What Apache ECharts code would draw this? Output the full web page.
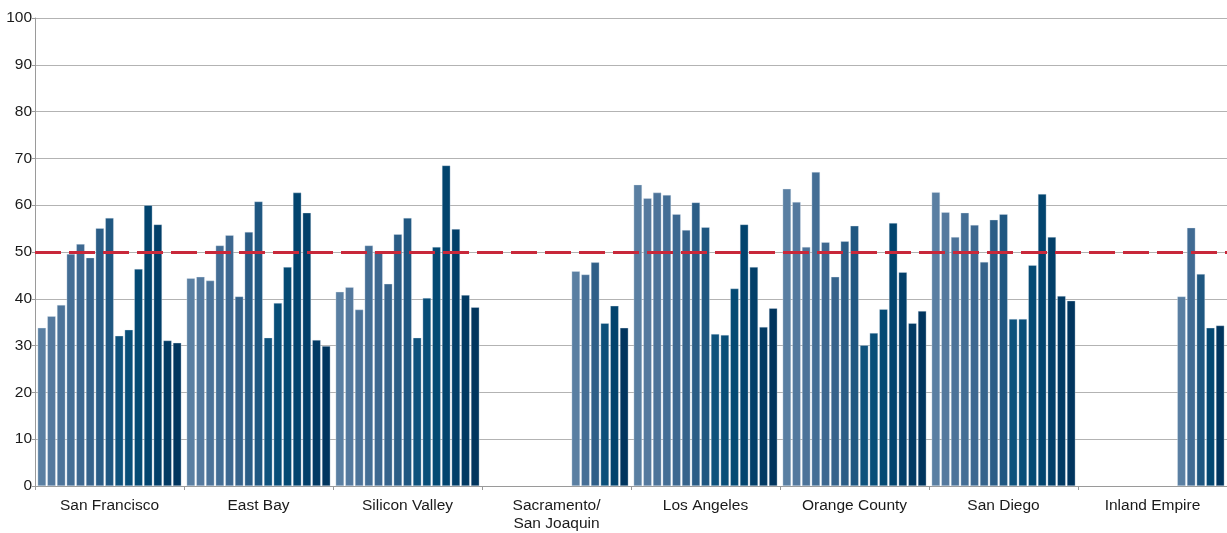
<!DOCTYPE html>
<html>
<head>
<meta charset="utf-8">
<script src="https://cdn.jsdelivr.net/npm/echarts@6/dist/echarts.min.js"></script>
<style>
  html, body { margin: 0; padding: 0; background: #fff; }
  #chart { width: 1227px; height: 533px; }
</style>
</head>
<body>
<div id="chart"></div>
<script>
// Regional markets along the x axis
const regions = ['San Francisco', 'East Bay', 'Silicon Valley', 'Sacramento/\nSan Joaquin',
  'Los Angeles', 'Orange County', 'San Diego', 'Inland Empire'];

// One row per region, 15 readings each (null = no reading for that period)
const sanFrancisco  = [33.8, 36.3, 38.7, 49.6, 51.7, 48.8, 55.1, 57.3, 32.1, 33.4, 46.4, 60.0, 55.9, 31.1, 30.6];
const eastBay       = [44.4, 44.7, 43.9, 51.4, 53.6, 40.5, 54.3, 60.8, 31.7, 39.1, 46.8, 62.7, 58.4, 31.2, 29.9];
const siliconValley = [41.5, 42.5, 37.7, 51.4, 50.1, 43.2, 53.8, 57.3, 31.7, 40.2, 51.1, 68.5, 54.9, 40.8, 38.2];
const sacramento    = [null, null, null, null, null, null, null, null, null, 45.9, 45.2, 47.8, 34.8, 38.5, 33.8];
const losAngeles    = [64.4, 61.5, 62.7, 62.2, 58.1, 54.7, 60.6, 55.3, 32.5, 32.3, 42.2, 55.9, 46.8, 34.0, 38.0];
const orangeCounty  = [63.5, 60.7, 51.1, 67.1, 52.1, 44.7, 52.3, 55.6, 30.1, 32.7, 37.8, 56.2, 45.7, 34.8, 37.4];
const sanDiego      = [62.8, 58.5, 53.2, 58.4, 55.8, 47.9, 56.9, 58.1, 35.7, 35.7, 47.2, 62.4, 53.2, 40.6, 39.6];
const inlandEmpire  = [null, null, null, null, null, null, null, null, null, null, 40.5, 55.2, 45.3, 33.8, 34.3];

const regionRows = [sanFrancisco, eastBay, siliconValley, sacramento, losAngeles, orangeCounty, sanDiego, inlandEmpire];

// Threshold line
const threshold = 50;

// Y axis ticks
const yTicks = [0, 10, 20, 30, 40, 50, 60, 70, 80, 90, 100];

// Light steel blue to dark navy
const shades = ['#5a7fa2', '#54799e', '#4c7399', '#446e95', '#3d6890', '#36638b', '#2b5d86', '#1f5781',
  '#0e527c', '#084e78', '#044a73', '#02446e', '#023f69', '#023a63', '#01355e'];

function hexToRgb(h) {
  return [parseInt(h.slice(1, 3), 16), parseInt(h.slice(3, 5), 16), parseInt(h.slice(5, 7), 16)];
}
// Pick a shade at fraction t (0..1) along the ramp
function shadeAt(t) {
  const pos = t * (shades.length - 1);
  const i = Math.min(Math.floor(pos), shades.length - 2);
  const f = pos - i;
  const a = hexToRgb(shades[i]), b = hexToRgb(shades[i + 1]);
  const c = a.map((v, k) => Math.round(v + (b[k] - v) * f));
  return 'rgb(' + c.join(',') + ')';
}

// Within each region the bars that are present run light → dark
function colorFor(regionIdx, period) {
  const row = regionRows[regionIdx];
  const present = [];
  row.forEach((v, i) => { if (v != null) present.push(i); });
  const k = present.indexOf(period);
  const t = present.length > 1 ? k / (present.length - 1) : 0;
  return shadeAt(t);
}

const periodCount = shades.length;
const series = [];
for (let p = 0; p < periodCount; p++) {
  const s = {
    type: 'bar',
    name: 'P' + (p + 1),
    data: regionRows.map((row, r) => row[p] == null ? null : {
      value: row[p],
      itemStyle: { color: colorFor(r, p) }
    }),
    barGap: '14%',
    barCategoryGap: '3.5%',
    itemStyle: { borderColor: 'rgba(225,233,242,0.55)', borderWidth: 0.6 },
    silent: true
  };
  if (p === periodCount - 1) {
    s.markLine = {
      silent: true,
      symbol: 'none',
      label: { show: false },
      lineStyle: { color: '#c8283a', width: 3, type: [26, 8] },
      data: [{ yAxis: threshold }],
      z: 10
    };
  }
  series.push(s);
}

const chart = echarts.init(document.getElementById('chart'), null, { renderer: 'canvas' });
chart.setOption({
  animation: false,
  textStyle: { fontFamily: '"Liberation Sans", Arial, Helvetica, sans-serif' },
  grid: { left: 35, right: 0, top: 18, bottom: 47, containLabel: false },
  xAxis: {
    type: 'category',
    data: regions,
    axisLine: { lineStyle: { color: '#9a9a9a', width: 1 } },
    axisTick: { show: true, length: 4, lineStyle: { color: '#9a9a9a' } },
    axisLabel: { color: '#1a1a1a', fontSize: 15.5, margin: 11, lineHeight: 18 }
  },
  yAxis: {
    type: 'value',
    min: yTicks[0],
    max: yTicks[yTicks.length - 1],
    interval: 10,
    axisLine: { show: true, lineStyle: { color: '#9a9a9a', width: 1 } },
    axisTick: { show: true, length: 3, lineStyle: { color: '#9a9a9a' } },
    axisLabel: { color: '#1a1a1a', fontSize: 15.5, margin: 3 },
    splitLine: { lineStyle: { color: '#b3b3b3', width: 1.2 } }
  },
  series: series
});
</script>
</body>
</html>
